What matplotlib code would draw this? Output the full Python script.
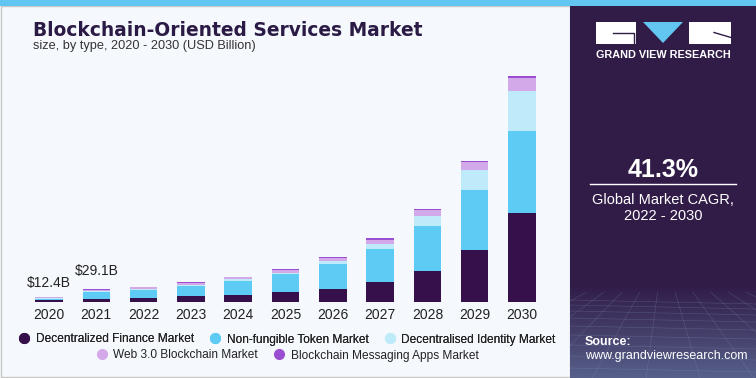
import numpy as np
import matplotlib
matplotlib.use("Agg")
import matplotlib.pyplot as plt
from matplotlib.lines import Line2D
from matplotlib.patches import Rectangle, Polygon

# data (USD Billion)
years = ['2020', '2021', '2022', '2023', '2024', '2025',
         '2026', '2027', '2028', '2029', '2030']
defi = [5.0, 7.0, 10.0, 13.0, 15.0, 23.0, 30.6, 46.7, 72.0, 119.0, 204.7]
nft = [3.0, 16.0, 18.0, 24.0, 34.0, 41.0, 57.5, 76.0, 103.5, 139.0, 188.6]
identity = [1.5, 2.0, 2.0, 2.5, 3.0, 3.5, 7.0, 11.5, 23.0, 46.0, 92.7]
web3 = [2.4, 3.0, 3.5, 4.0, 4.5, 6.0, 7.0, 9.0, 13.8, 19.3, 30.0]
messaging = [0.5, 1.1, 1.5, 2.0, 1.5, 2.0, 1.5, 3.0, 1.5, 1.5, 4.6]

series = [defi, nft, identity, web3, messaging]
names = ['Decentralized Finance Market', 'Non-fungible Token Market',
         'Decentralised Identity Market', 'Web 3.0 Blockchain Market',
         'Blockchain Messaging Apps Market']
colors = ['#36104a', '#5ecbf4', '#bfeafa', '#d4a9ea', '#9a4fd2']

W, H = 756, 378
fig = plt.figure(figsize=(W / 100, H / 100), dpi=100)
fig.patch.set_facecolor('#f5f9fd')

# decoration layer in pixel coordinates
bg = fig.add_axes([0, 0, 1, 1])
bg.set_xlim(0, W)
bg.set_ylim(H, 0)
bg.axis('off')
bg.add_patch(Rectangle((0.5, 6), 569, H - 7, fc='#f5f9fd', ec='#c8c8c8', lw=1))
panel = Rectangle((570, 6), W - 570, H - 6, fc='#311c48', ec='none')
bg.add_patch(panel)

# lighter gradient at bottom of side panel
grad = np.linspace(0, 1, 100)[:, None]
cmap = matplotlib.colors.LinearSegmentedColormap.from_list('g', ['#311c48', '#56608a'])
bg.imshow(grad, extent=(570, W, H, 285), cmap=cmap, aspect='auto', zorder=1)
# perspective grid, clipped to the side panel
for k in np.linspace(-700, 1400, 40):
    x0 = 663 + (k - 663) * (292 - 250) / (H - 250)
    ln, = bg.plot([x0, k], [292, H], color='#8aa0c8', lw=0.4, alpha=0.3, zorder=2)
    ln.set_clip_path(panel)
for yy in [300, 305, 311, 318, 326, 335, 345, 356, 368]:
    ln, = bg.plot([570, W], [yy, yy + 4], color='#8aa0c8', lw=0.4, alpha=0.3, zorder=2)
    ln.set_clip_path(panel)
bg.set_xlim(0, W)
bg.set_ylim(H, 0)
bg.add_patch(Rectangle((0, 0), W, 6, fc='#62c6f0', ec='none', zorder=3))

# logo
bg.add_patch(Rectangle((596, 22), 40, 21.5, fc='white', ec='none', zorder=3))
bg.plot([613, 634, 634], [32.5, 32.5, 43.5], color='#311c48', lw=1, zorder=4)
bg.add_patch(Polygon([[643, 22], [683, 22], [663, 43]], fc='#62c6f0', ec='none', zorder=3))
bg.add_patch(Rectangle((689, 22), 42, 21.5, fc='white', ec='none', zorder=3))
bg.plot([714, 731], [32.5, 37.5], color='#311c48', lw=1, zorder=4)
bg.text(663, 54.5, 'GRAND VIEW RESEARCH', color='white', fontsize=7.8,
        fontweight='bold', ha='center', va='center', family='Liberation Sans', zorder=4)

bg.text(663, 170, '41.3%', color='white', fontsize=18, fontweight='bold',
        ha='center', va='center', family='Liberation Sans', zorder=4)
bg.plot([590, 736], [184, 184], color='white', lw=1, zorder=4)
bg.text(663, 199.5, 'Global Market CAGR,', color='white', fontsize=10.5,
        ha='center', va='center', family='Liberation Sans', zorder=4)
bg.text(663, 216.5, '2022 - 2030', color='white', fontsize=10.5,
        ha='center', va='center', family='Liberation Sans', zorder=4)
bg.text(585, 342, 'Source:', color='white', fontsize=9, fontweight='bold',
        ha='left', va='center', family='Liberation Sans', zorder=4)
bg.text(585, 356.5, 'www.grandviewresearch.com', color='white', fontsize=9,
        ha='left', va='center', family='Liberation Sans', zorder=4)

# titles
bg.text(33, 30, 'Blockchain-Oriented Services Market', color='#2b1a45', fontsize=13.4,
        fontweight='bold', ha='left', va='center')
bg.text(33, 45.5, 'size, by type, 2020 - 2030 (USD Billion)', color='#333333',
        fontsize=9.2, ha='left', va='center', family='Liberation Sans')

# chart
ax = fig.add_axes([20.6 / W, (H - 302) / H, 529.8 / W, 239 / H])
ax.set_facecolor('none')
x = np.arange(len(years))
bottom = np.zeros(len(years))
for vals, c in zip(series, colors):
    ax.bar(x, vals, 0.58, bottom=bottom, color=c, edgecolor='none')
    bottom += np.array(vals)
ax.set_xlim(-0.6, 10.6)
ax.set_ylim(0, 550)
ax.set_xticks(x)
ax.set_xticklabels(years, fontsize=10, color='#222222', family='Liberation Sans')
ax.tick_params(axis='x', length=0, pad=4)
ax.set_yticks([])
for s in ax.spines.values():
    s.set_visible(False)

for i, dy in [(0, 14), (1, 18)]:
    ax.annotate(f'${bottom[i]:.1f}B', (x[i], bottom[i]), xytext=(0, dy),
                textcoords='offset pixels', ha='center', va='center',
                fontsize=10, color='#222222', family='Liberation Sans')

handles = [Line2D([], [], marker='o', ls='none', color=c, markersize=7) for c in colors]
legkw = dict(loc='center', frameon=False, handletextpad=0.45, columnspacing=1.3,
             prop={'family': 'Liberation Sans', 'size': 8.6}, handlelength=1.0)
leg1 = fig.legend(handles[:3], names[:3], bbox_to_anchor=(287 / W, 1 - 339.5 / H),
                  ncol=3, **legkw)
fig.add_artist(leg1)
leg2 = fig.legend(handles[3:], names[3:], bbox_to_anchor=(287 / W, 1 - 355.5 / H),
                  ncol=2, **legkw)
for leg in (leg1, leg2):
    for t in leg.get_texts():
        t.set_color('#222222')

fig.savefig('out.png', dpi=100, facecolor=fig.get_facecolor())
